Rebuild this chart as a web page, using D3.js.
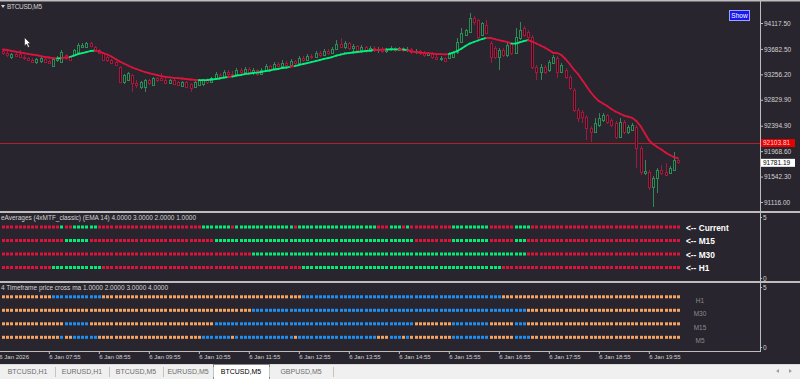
<!DOCTYPE html>
<html>
<head>
<meta charset="utf-8">
<script src="https://cdn.jsdelivr.net/npm/d3@7"></script>
<style>
  body { margin: 0; background: #29252e; overflow: hidden; }
  text { font-family: "Liberation Sans", Arial, sans-serif; }
</style>
</head>
<body>
<div id="chart"></div>
<script>
var svgWidth = 800;
var svgHeight = 379;

// BTCUSD M5 candles, oldest first
var opens = [93648,93614,93547,93597,93597,93547,93530,93497,93463,93480,
  93514,93480,93396,93497,93463,93581,93547,93581,93631,93715,
  93715,93782,93715,93665,93614,93547,93497,93463,93379,93128,
  93161,93245,93111,93044,93044,93161,93078,93195,93195,93161,
  93111,93161,93128,93061,93128,93094,93044,93078,93094,93161,
  93128,93195,93245,93212,93296,93262,93245,93329,93296,93346,
  93296,93329,93262,93329,93396,93346,93430,93396,93446,93413,
  93480,93446,93530,93497,93564,93547,93614,93581,93648,93614,
  93681,93765,93715,93782,93698,93732,93665,93715,93648,93698,
  93665,93681,93648,93681,93698,93665,93698,93665,93681,93631,
  93648,93614,93581,93614,93547,93514,93530,93530,93547,93631,
  93799,93916,93966,94201,94168,93916,94084,93782,93698,93547,
  93665,93581,93782,93614,93866,94033,93966,93883,93379,93296,
  93379,93329,93446,93530,93296,93329,93212,92994,92658,92625,
  92541,92356,92289,92407,92491,92574,92491,92440,92205,92457,
  92289,92323,92373,92021,91602,91619,91367,91518,91652,91619,
  91602,91652,91820];
var highs = [93681,93648,93614,93631,93665,93581,93547,93530,93530,93547,
  93530,93497,93530,93564,93665,93597,93564,93681,93782,93782,
  93799,93799,93732,93681,93631,93564,93514,93480,93396,93262,
  93296,93262,93161,93145,93178,93178,93212,93212,93279,93195,
  93178,93178,93145,93145,93145,93111,93145,93178,93178,93195,
  93212,93296,93279,93329,93329,93312,93363,93363,93379,93379,
  93363,93346,93363,93430,93413,93463,93463,93497,93480,93514,
  93497,93564,93564,93597,93597,93648,93648,93681,93681,93715,
  93832,93866,93815,93799,93765,93748,93748,93732,93732,93732,
  93715,93715,93698,93732,93715,93715,93715,93715,93698,93681,
  93665,93648,93631,93631,93581,93564,93547,93631,93648,93866,
  94033,94017,94285,94235,94184,94134,94168,93815,93732,93698,
  93698,93782,93799,94033,94134,94067,94000,93916,93413,93430,
  93413,93497,93581,93564,93446,93363,93245,93027,92692,92658,
  92574,92390,92524,92608,92608,92591,92524,92474,92524,92491,
  92407,92440,92407,92054,91820,91652,91552,91686,91736,91770,
  91719,91954,91837];
var lows = [93581,93547,93514,93547,93530,93497,93480,93446,93430,93446,
  93446,93430,93379,93463,93446,93497,93480,93564,93614,93698,
  93698,93715,93648,93597,93480,93463,93430,93396,93111,93094,
  93145,92960,93027,93010,92960,93078,93061,93128,93145,93094,
  93094,93078,93061,93044,93027,92960,93027,93061,93061,93094,
  93111,93161,93178,93195,93228,93212,93228,93262,93279,93262,
  93245,93228,93245,93296,93312,93329,93363,93363,93379,93396,
  93413,93430,93463,93480,93514,93530,93547,93564,93581,93597,
  93665,93698,93681,93665,93631,93631,93648,93614,93631,93631,
  93614,93614,93614,93648,93631,93648,93631,93631,93597,93597,
  93581,93547,93564,93514,93497,93480,93463,93514,93530,93597,
  93782,93899,93950,94084,93849,93899,93933,93446,93514,93329,
  93547,93547,93581,93597,93832,93883,93832,93346,93161,93161,
  93262,93296,93430,93195,93279,93178,92994,92625,92457,92440,
  92155,92121,92272,92373,92457,92423,92373,92172,92189,92256,
  92256,92306,91686,91568,91568,91317,91032,91266,91568,91552,
  91585,91635,91753];
var closes = [93614,93581,93597,93564,93547,93530,93497,93463,93514,93530,
  93463,93446,93514,93530,93631,93530,93497,93665,93748,93748,
  93782,93732,93665,93614,93497,93497,93446,93413,93128,93245,
  93279,93111,93078,93128,93161,93111,93195,93161,93161,93111,
  93161,93094,93078,93128,93044,93027,93128,93161,93161,93128,
  93195,93262,93212,93296,93262,93245,93329,93296,93346,93296,
  93329,93262,93329,93396,93346,93430,93396,93446,93413,93480,
  93446,93530,93497,93564,93547,93614,93581,93648,93614,93681,
  93765,93715,93782,93698,93732,93665,93715,93648,93698,93665,
  93681,93648,93681,93698,93665,93698,93665,93681,93631,93648,
  93614,93581,93614,93547,93514,93530,93480,93614,93631,93799,
  93950,94000,94201,94134,93883,94117,93950,93547,93547,93665,
  93581,93748,93614,93883,94000,93916,93883,93379,93296,93379,
  93296,93463,93547,93296,93413,93212,93027,92658,92524,92541,
  92356,92289,92440,92524,92574,92457,92407,92205,92457,92289,
  92373,92407,92021,91619,91635,91367,91518,91652,91602,91568,
  91686,91820,91781.19];
// EMA 14 line as drawn on the chart
var ema14 = [93673,93665,93651,93639,93626,93614,93601,93589,93577,93564,
  93550,93539,93530,93525,93530,93539,93547,93572,93597,93614,
  93631,93648,93656,93643,93614,93589,93555,93514,93472,93438,
  93405,93371,93346,93321,93296,93279,93262,93245,93228,93215,
  93207,93198,93192,93187,93178,93170,93165,93161,93161,93161,
  93170,93178,93187,93203,93212,93220,93237,93245,93262,93270,
  93279,93287,93296,93312,93321,93338,93346,93363,93371,93388,
  93396,93413,93430,93446,93463,93480,93497,93514,93530,93547,
  93572,93589,93606,93614,93623,93631,93639,93648,93656,93665,
  93668,93671,93673,93675,93676,93676,93673,93661,93643,93631,
  93623,93614,93611,93604,93597,93594,93592,93597,93619,93648,
  93685,93732,93773,93799,93824,93849,93869,93866,93849,93832,
  93815,93799,93773,93773,93794,93815,93829,93807,93773,93740,
  93706,93665,93619,93614,93581,93514,93430,93338,93262,93161,
  93061,92960,92876,92809,92767,92725,92675,92633,92599,92566,
  92549,92527,92474,92390,92272,92155,92088,92038,91996,91946,
  91904,91870,91853];

// price vs MA state per timeframe, run lengths alternating below / above, starting below
var runsCurrent = [14,1,2,6,25,7,1,14,1,19,3,3,1,1,10,9,6,4,36];
var runsM15 = [15,6,30,48,9,9,6,3,37];
var runsM30 = [60,66,37];
var runsH1 = [12,12,48,48,43];

var priceTicks = [94117.50, 93682.50, 93256.20, 92829.90, 92394.90, 91968.60, 91542.30, 91116.00];
var levelPrice = 92103.81;
var bidPrice = 91781.19;

var timeTickBars = [-1, 11, 23, 35, 47, 59, 71, 83, 95, 107, 119, 131, 143, 155];
var timeTickLabels = ["6 Jan 2026", "6 Jan 07:55", "6 Jan 08:55", "6 Jan 09:55", "6 Jan 10:55",
  "6 Jan 11:55", "6 Jan 12:55", "6 Jan 13:55", "6 Jan 14:55", "6 Jan 15:55", "6 Jan 16:55",
  "6 Jan 17:55", "6 Jan 18:55", "6 Jan 19:55"];

var panel1Rows = ["Current", "M15", "M30", "H1"];
var panel2Rows = ["H1", "M30", "M15", "M5"];
var tabNames = ["BTCUSD,H1", "EURUSD,H1", "BTCUSD,M5", "EURUSD,M5", "BTCUSD,M5", "GBPUSD,M5"];
var activeTab = 4;

function expand(runs) {
  var out = [];
  runs.forEach(function (n, k) {
    for (var j = 0; j < n; j++) out.push(k % 2);
  });
  return out;
}

var states = {
  Current: expand(runsCurrent),
  M5: expand(runsCurrent),
  M15: expand(runsM15),
  M30: expand(runsM30),
  H1: expand(runsH1)
};

var bg = "#29252e";
var frame = "#bdbdbd";
var txt = "#d2d2d2";

var svg = d3.select("#chart")
  .append("svg")
  .attr("width", svgWidth)
  .attr("height", svgHeight)
  .style("display", "block");

svg.append("rect").attr("width", svgWidth).attr("height", svgHeight).attr("fill", bg);

var xScale = d3.scaleLinear().domain([0, closes.length - 1]).range([3, 678]);
var yPrice = d3.scaleLinear().domain([91116, 94117.5]).range([202, 23]);
var px = function (i) { return Math.round(xScale(i)) + 0.5; };

// ---------- main window ----------
var main = svg.append("g");

main.append("line")
  .attr("x1", 0).attr("x2", 760)
  .attr("y1", Math.round(yPrice(levelPrice)) + 0.5).attr("y2", Math.round(yPrice(levelPrice)) + 0.5)
  .attr("stroke", "#b3202c").attr("stroke-width", 1);

var bars = main.selectAll(".bar")
  .data(closes.map(function (c, i) { return { i: i, o: opens[i], h: highs[i], l: lows[i], c: c }; }))
  .enter().append("g").attr("class", "bar");

bars.append("line")
  .attr("x1", function (d) { return px(d.i); })
  .attr("x2", function (d) { return px(d.i); })
  .attr("y1", function (d) { return yPrice(d.h); })
  .attr("y2", function (d) { return yPrice(d.l); })
  .attr("stroke", function (d) { return d.c >= d.o ? "#2f8a58" : "#a3183f"; })
  .attr("stroke-width", 1);

bars.append("rect")
  .attr("x", function (d) { return px(d.i) - 1; })
  .attr("width", 2)
  .attr("y", function (d) { return Math.round(yPrice(Math.max(d.o, d.c))) + 0.5; })
  .attr("height", function (d) { return Math.max(1, Math.round(Math.abs(yPrice(d.o) - yPrice(d.c)))); })
  .attr("fill", function (d) { return d.c >= d.o ? "#18281f" : "#2a0c16"; })
  .attr("stroke", function (d) { return d.c >= d.o ? "#2f8a58" : "#a3183f"; })
  .attr("stroke-width", 1);

main.selectAll(".ema")
  .data(d3.range(1, ema14.length))
  .enter().append("line")
  .attr("class", "ema")
  .attr("x1", function (i) { return xScale(i - 1); })
  .attr("x2", function (i) { return xScale(i); })
  .attr("y1", function (i) { return yPrice(ema14[i - 1]); })
  .attr("y2", function (i) { return yPrice(ema14[i]); })
  .attr("stroke", function (i) { return states.Current[i] ? "#00f07a" : "#dc143c"; })
  .attr("stroke-width", 1.8)
  .attr("stroke-linecap", "round");

var priceAxis = svg.append("g")
  .attr("transform", "translate(760,0)")
  .call(d3.axisRight(yPrice).tickValues(priceTicks).tickFormat(d3.format(".2f")).tickSize(3).tickPadding(1));
priceAxis.select(".domain").remove();
priceAxis.selectAll("line").attr("stroke", frame);
priceAxis.selectAll("text").attr("fill", txt).attr("font-size", "6.5px").attr("font-family", "Liberation Sans");

// current level and bid boxes on the price scale
var yl = yPrice(levelPrice);
svg.append("rect").attr("x", 761).attr("y", yl - 4).attr("width", 34).attr("height", 8).attr("fill", "#e60000");
svg.append("text").attr("x", 763).attr("y", yl + 2.4).attr("fill", "#ffd8d8").attr("font-size", "6.5px").text(levelPrice.toFixed(2));
var yb = yPrice(bidPrice);
svg.append("rect").attr("x", 761).attr("y", yb - 3.5).attr("width", 34).attr("height", 8).attr("fill", "#ffffff");
svg.append("text").attr("x", 763).attr("y", yb + 2.8).attr("fill", "#000").attr("font-size", "6.5px").text(bidPrice.toFixed(2));

// title, show button, cursor
svg.append("path").attr("d", "M1,5 L5,5 L3,8 Z").attr("fill", txt);
svg.append("text").attr("x", 7).attr("y", 9).attr("fill", txt).attr("font-size", "6.5px")
  .attr("textLength", 35).text("BTCUSD,M5");
svg.append("rect").attr("x", 729.5).attr("y", 10.5).attr("width", 20).attr("height", 10)
  .attr("fill", "#1717ee").attr("stroke", "#a0a0ff");
svg.append("text").attr("x", 739.5).attr("y", 18).attr("text-anchor", "middle")
  .attr("fill", "#fff").attr("font-size", "6.5px").text("Show");
svg.append("path")
  .attr("d", "M24.5,37.5 L24.5,46 L26.5,44 L28,47.5 L29.5,46.8 L28,43.5 L30.5,43.5 Z")
  .attr("fill", "#fff").attr("stroke", "#222").attr("stroke-width", 0.6);

// ---------- indicator panels ----------
function drawPanel(rows, top, bottom, rowRange, onColor, offColor, title, titleLen, labelFn) {
  var g = svg.append("g");
  var yRow = d3.scalePoint().domain(rows).range(rowRange);
  g.append("text").attr("x", 1).attr("y", top + 8).attr("fill", txt)
    .attr("font-size", "6.5px").attr("textLength", titleLen).text(title);
  rows.forEach(function (r) {
    g.selectAll(".dot-" + r)
      .data(states[r])
      .enter().append("rect")
      .attr("x", function (d, i) { return Math.round(xScale(i)) - 1; })
      .attr("y", yRow(r) - 1.5)
      .attr("width", 3)
      .attr("height", 3)
      .attr("fill", function (d) { return d ? onColor : offColor; });
    labelFn(g, r, yRow(r));
  });
  var s = d3.scaleLinear().domain([0, 5]).range([bottom - 4, top + 5]);
  var ax = svg.append("g").attr("transform", "translate(760,0)")
    .call(d3.axisRight(s).tickValues([0, 5]).tickFormat(d3.format("d")).tickSize(2).tickPadding(1));
  ax.select(".domain").remove();
  ax.selectAll("line").attr("stroke", frame);
  ax.selectAll("text").attr("fill", txt).attr("font-size", "6.5px");
}

drawPanel(panel1Rows, 212, 282, [227, 267.5], "#00ee76", "#dc143c",
  "eAverages (4xMTF_classic) (EMA 14) 4.0000 3.0000 2.0000 1.0000", 195,
  function (g, r, y) {
    g.append("text").attr("x", 686).attr("y", y + 3.7)
      .attr("fill", "#ffffff").attr("font-family", "DejaVu Sans").attr("font-weight", "bold")
      .attr("font-size", "8.3px").text("<-- " + r);
  });

drawPanel(panel2Rows, 282, 351, [296.8, 337.3], "#1e8ff0", "#f4a460",
  "4 Timeframe price cross ma 1.0000 2.0000 3.0000 4.0000", 167,
  function (g, r, y) {
    g.append("text").attr("x", 700).attr("y", y + 5.7).attr("text-anchor", "middle")
      .attr("fill", "#8c8c8c").attr("font-size", "6.5px").text(r);
  });

// ---------- frame ----------
svg.append("rect").attr("x", 0).attr("y", 0).attr("width", svgWidth).attr("height", 1.5).attr("fill", frame);
svg.append("rect").attr("x", 0).attr("y", 211).attr("width", svgWidth).attr("height", 2).attr("fill", frame);
svg.append("rect").attr("x", 0).attr("y", 281).attr("width", svgWidth).attr("height", 2).attr("fill", frame);
svg.append("line").attr("x1", 0).attr("x2", 761).attr("y1", 351.5).attr("y2", 351.5).attr("stroke", frame);
svg.append("line").attr("x1", 760.5).attr("x2", 760.5).attr("y1", 0).attr("y2", 352).attr("stroke", frame);

// ---------- time axis ----------
var timeAxis = svg.append("g")
  .attr("transform", "translate(0,352)")
  .call(d3.axisBottom(xScale).tickValues(timeTickBars)
    .tickFormat(function (d, i) { return timeTickLabels[i]; }).tickSize(2).tickPadding(1));
timeAxis.select(".domain").remove();
timeAxis.selectAll("line").attr("stroke", frame);
timeAxis.selectAll("text").attr("fill", txt).attr("font-size", "6px").attr("text-anchor", "start");

// ---------- tab bar ----------
var tabEdges = [0, 55, 109, 163, 213, 269, 333];
var tabs = svg.append("g");
tabs.append("rect").attr("x", 0).attr("y", 364).attr("width", svgWidth).attr("height", 15).attr("fill", "#f0f0f0");
tabs.append("line").attr("x1", 0).attr("x2", svgWidth).attr("y1", 364.5).attr("y2", 364.5).attr("stroke", "#dadada");
tabs.append("rect").attr("x", tabEdges[activeTab] + 0.5).attr("y", 364.5)
  .attr("width", tabEdges[activeTab + 1] - tabEdges[activeTab]).attr("height", 15)
  .attr("fill", "#ffffff").attr("stroke", "#8a8a8a");
tabs.selectAll(".sep").data(tabEdges.slice(1)).enter().append("line")
  .attr("x1", function (d) { return d + 0.5; }).attr("x2", function (d) { return d + 0.5; })
  .attr("y1", 367).attr("y2", 377).attr("stroke", "#c4c4c4");
tabs.selectAll(".tab").data(tabNames).enter().append("text")
  .attr("x", function (d, i) { return (tabEdges[i] + tabEdges[i + 1]) / 2; })
  .attr("y", 374)
  .attr("text-anchor", "middle")
  .attr("font-size", "7px")
  .attr("fill", function (d, i) { return i === activeTab ? "#000" : "#6e6e6e"; })
  .text(function (d) { return d; });
tabs.append("path").attr("d", "M776,371 L779,369 L779,373 Z").attr("fill", "#a0a0a0");
tabs.append("path").attr("d", "M792,371 L789,369 L789,373 Z").attr("fill", "#a0a0a0");
</script>
</body>
</html>
